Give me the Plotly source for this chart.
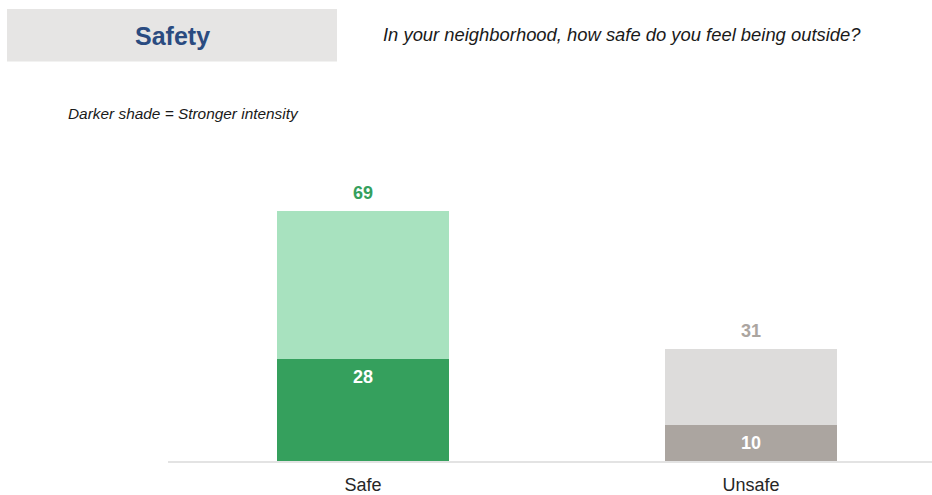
import plotly.graph_objects as go

categories = ["Safe", "Unsafe"]
strong_values = [28, 10]
total_values = [69, 31]
light_values = [t - s for t, s in zip(total_values, strong_values)]

dark_colors = ["#35a05d", "#aba5a0"]
light_colors = ["#a8e2bf", "#dddcdb"]
total_label_colors = ["#35a05d", "#aba5a0"]

W, H = 932, 495
L, R, T, B = 168, 0, 150, 32
pw, ph = W - L - R, H - T - B

def px(x):
    return (x - L) / pw

def py(y):
    return (H - B - y) / ph

FONT = "Arial, Liberation Sans, sans-serif"

fig = go.Figure()
fig.add_trace(go.Bar(x=categories, y=strong_values, marker_color=dark_colors,
                     marker_line_width=0, width=0.443, hoverinfo="skip"))
fig.add_trace(go.Bar(x=categories, y=light_values, marker_color=light_colors,
                     marker_line_width=0, width=0.443, hoverinfo="skip"))

ann = []
for c, s, t, col in zip(categories, strong_values, total_values, total_label_colors):
    ann.append(dict(x=c, y=t, xref="x", yref="y", text=f"<b>{t}</b>", showarrow=False,
                    yanchor="middle", yshift=18, font=dict(size=18, color=col, family=FONT)))
    ann.append(dict(x=c, y=s, xref="x", yref="y", text=f"<b>{s}</b>", showarrow=False,
                    yanchor="middle", yshift=-18, font=dict(size=18, color="white", family=FONT)))

ann.append(dict(x=px(172), y=py(35), xref="paper", yref="paper", text="<b>Safety</b>", showarrow=False,
                xanchor="center", yanchor="middle", font=dict(size=25, color="#2a4b80", family=FONT)))
ann.append(dict(x=px(381), y=py(34), xref="paper", yref="paper",
                text="<i>In your neighborhood, how safe do you feel being outside?</i>", showarrow=False,
                xanchor="left", yanchor="middle", font=dict(size=18.4, color="#1a1a1a", family=FONT)))
ann.append(dict(x=px(66), y=py(113), xref="paper", yref="paper",
                text="<i>Darker shade = Stronger intensity</i>", showarrow=False,
                xanchor="left", yanchor="middle", font=dict(size=15.4, color="#1a1a1a", family=FONT)))

fig.update_layout(
    width=W, height=H, barmode="stack", showlegend=False,
    margin=dict(l=L, r=R, t=T, b=B, pad=0),
    paper_bgcolor="white", plot_bgcolor="white",
    annotations=ann,
    shapes=[dict(type="rect", xref="paper", yref="paper", x0=px(7), x1=px(337), y0=py(61), y1=py(8),
                 fillcolor="#e6e5e4", line_width=0, layer="below")],
    xaxis=dict(range=[-0.5026, 1.4665], showgrid=False, showline=True, linecolor="#e3e3e3", linewidth=2,
               ticks="", ticklabelstandoff=6,
               tickfont=dict(size=18, color="#262626", family=FONT), fixedrange=True),
    yaxis=dict(range=[0, (H - B - T) / 3.652], visible=False, showgrid=False, zeroline=False, fixedrange=True),
)

fig.write_html("out.html", config={"displayModeBar": False},
               post_script="document.body.style.margin='0';document.body.style.overflow='hidden';")
